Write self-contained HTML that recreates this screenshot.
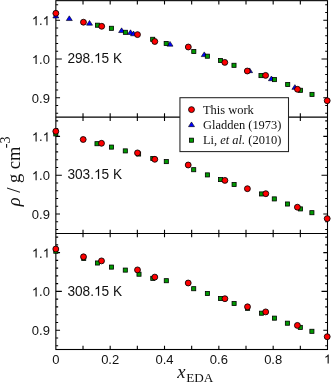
<!DOCTYPE html><html><head><meta charset="utf-8"><style>html,body{margin:0;padding:0;background:#fff;}svg{display:block;will-change:transform;} .s{font-family:"Liberation Sans",sans-serif;} .r{font-family:"Liberation Serif",serif;}</style></head><body>
<svg width="331" height="382" viewBox="0 0 331 382">
<rect width="331" height="382" fill="#fff"/>
<path d="M55.85 113.32h2.3M327.50 113.32h-2.3M55.85 105.56h2.3M327.50 105.56h-2.3M55.85 97.80h4.2M327.50 97.80h-4.2M55.85 90.04h2.3M327.50 90.04h-2.3M55.85 82.28h2.3M327.50 82.28h-2.3M55.85 74.52h2.3M327.50 74.52h-2.3M55.85 66.76h2.3M327.50 66.76h-2.3M55.85 59.00h6.0M327.50 59.00h-6.0M55.85 51.24h2.3M327.50 51.24h-2.3M55.85 43.48h2.3M327.50 43.48h-2.3M55.85 35.72h2.3M327.50 35.72h-2.3M55.85 27.96h2.3M327.50 27.96h-2.3M55.85 20.20h4.2M327.50 20.20h-4.2M55.85 12.44h2.3M327.50 12.44h-2.3M55.85 4.68h2.3M327.50 4.68h-2.3M83.02 0.65v3.8M83.02 117.15v-3.8M110.18 0.65v3.8M110.18 117.15v-3.8M137.34 0.65v3.8M137.34 117.15v-3.8M164.51 0.65v3.8M164.51 117.15v-3.8M191.67 0.65v3.8M191.67 117.15v-3.8M218.84 0.65v3.8M218.84 117.15v-3.8M246.00 0.65v3.8M246.00 117.15v-3.8M273.17 0.65v3.8M273.17 117.15v-3.8M300.33 0.65v3.8M300.33 117.15v-3.8M55.85 229.52h2.3M327.50 229.52h-2.3M55.85 221.76h2.3M327.50 221.76h-2.3M55.85 214.00h4.2M327.50 214.00h-4.2M55.85 206.24h2.3M327.50 206.24h-2.3M55.85 198.48h2.3M327.50 198.48h-2.3M55.85 190.72h2.3M327.50 190.72h-2.3M55.85 182.96h2.3M327.50 182.96h-2.3M55.85 175.20h6.0M327.50 175.20h-6.0M55.85 167.44h2.3M327.50 167.44h-2.3M55.85 159.68h2.3M327.50 159.68h-2.3M55.85 151.92h2.3M327.50 151.92h-2.3M55.85 144.16h2.3M327.50 144.16h-2.3M55.85 136.40h4.2M327.50 136.40h-4.2M55.85 128.64h2.3M327.50 128.64h-2.3M55.85 120.88h2.3M327.50 120.88h-2.3M83.02 117.15v3.8M83.02 233.50v-3.8M110.18 117.15v3.8M110.18 233.50v-3.8M137.34 117.15v3.8M137.34 233.50v-3.8M164.51 117.15v3.8M164.51 233.50v-3.8M191.67 117.15v3.8M191.67 233.50v-3.8M218.84 117.15v3.8M218.84 233.50v-3.8M246.00 117.15v3.8M246.00 233.50v-3.8M273.17 117.15v3.8M273.17 233.50v-3.8M300.33 117.15v3.8M300.33 233.50v-3.8M55.85 345.72h2.3M327.50 345.72h-2.3M55.85 337.96h2.3M327.50 337.96h-2.3M55.85 330.20h4.2M327.50 330.20h-4.2M55.85 322.44h2.3M327.50 322.44h-2.3M55.85 314.68h2.3M327.50 314.68h-2.3M55.85 306.92h2.3M327.50 306.92h-2.3M55.85 299.16h2.3M327.50 299.16h-2.3M55.85 291.40h6.0M327.50 291.40h-6.0M55.85 283.64h2.3M327.50 283.64h-2.3M55.85 275.88h2.3M327.50 275.88h-2.3M55.85 268.12h2.3M327.50 268.12h-2.3M55.85 260.36h2.3M327.50 260.36h-2.3M55.85 252.60h4.2M327.50 252.60h-4.2M55.85 244.84h2.3M327.50 244.84h-2.3M55.85 237.08h2.3M327.50 237.08h-2.3M83.02 233.50v3.8M83.02 349.50v-3.8M110.18 233.50v3.8M110.18 349.50v-3.8M137.34 233.50v3.8M137.34 349.50v-3.8M164.51 233.50v3.8M164.51 349.50v-3.8M191.67 233.50v3.8M191.67 349.50v-3.8M218.84 233.50v3.8M218.84 349.50v-3.8M246.00 233.50v3.8M246.00 349.50v-3.8M273.17 233.50v3.8M273.17 349.50v-3.8M300.33 233.50v3.8M300.33 349.50v-3.8" stroke="#000" stroke-width="1.1" fill="none"/>
<rect x="55.85" y="0.65" width="271.65" height="348.85" fill="none" stroke="#000" stroke-width="1.1"/>
<path d="M55.85 117.15H327.5M55.85 233.5H327.5" stroke="#000" stroke-width="1.1"/>
<path d="M55.85 13.25 L58.85 17.95 L52.85 17.95 Z" fill="#0000ff" stroke="#000" stroke-width="0.6" stroke-linejoin="miter"/>
<path d="M69.30 15.85 L72.30 20.55 L66.30 20.55 Z" fill="#0000ff" stroke="#000" stroke-width="0.6" stroke-linejoin="miter"/>
<path d="M89.50 20.45 L92.50 25.15 L86.50 25.15 Z" fill="#0000ff" stroke="#000" stroke-width="0.6" stroke-linejoin="miter"/>
<path d="M121.60 27.85 L124.60 32.55 L118.60 32.55 Z" fill="#0000ff" stroke="#000" stroke-width="0.6" stroke-linejoin="miter"/>
<path d="M130.50 29.80 L133.50 34.50 L127.50 34.50 Z" fill="#0000ff" stroke="#000" stroke-width="0.6" stroke-linejoin="miter"/>
<path d="M133.50 31.05 L136.50 35.75 L130.50 35.75 Z" fill="#0000ff" stroke="#000" stroke-width="0.6" stroke-linejoin="miter"/>
<path d="M170.00 41.45 L173.00 46.15 L167.00 46.15 Z" fill="#0000ff" stroke="#000" stroke-width="0.6" stroke-linejoin="miter"/>
<path d="M204.25 51.90 L207.25 56.60 L201.25 56.60 Z" fill="#0000ff" stroke="#000" stroke-width="0.6" stroke-linejoin="miter"/>
<path d="M249.60 67.95 L252.60 72.65 L246.60 72.65 Z" fill="#0000ff" stroke="#000" stroke-width="0.6" stroke-linejoin="miter"/>
<path d="M271.40 76.00 L274.40 80.70 L268.40 80.70 Z" fill="#0000ff" stroke="#000" stroke-width="0.6" stroke-linejoin="miter"/>
<path d="M294.90 84.65 L297.90 89.35 L291.90 89.35 Z" fill="#0000ff" stroke="#000" stroke-width="0.6" stroke-linejoin="miter"/>
<rect x="95.45" y="23.15" width="4.1" height="4.1" fill="#009a00" stroke="#000" stroke-width="0.8"/>
<rect x="109.35" y="26.25" width="4.1" height="4.1" fill="#009a00" stroke="#000" stroke-width="0.8"/>
<rect x="123.35" y="30.25" width="4.1" height="4.1" fill="#009a00" stroke="#000" stroke-width="0.8"/>
<rect x="150.65" y="37.25" width="4.1" height="4.1" fill="#009a00" stroke="#000" stroke-width="0.8"/>
<rect x="164.15" y="41.40" width="4.1" height="4.1" fill="#009a00" stroke="#000" stroke-width="0.8"/>
<rect x="191.75" y="49.45" width="4.1" height="4.1" fill="#009a00" stroke="#000" stroke-width="0.8"/>
<rect x="205.30" y="54.15" width="4.1" height="4.1" fill="#009a00" stroke="#000" stroke-width="0.8"/>
<rect x="218.45" y="58.45" width="4.1" height="4.1" fill="#009a00" stroke="#000" stroke-width="0.8"/>
<rect x="231.95" y="63.25" width="4.1" height="4.1" fill="#009a00" stroke="#000" stroke-width="0.8"/>
<rect x="258.95" y="73.55" width="4.1" height="4.1" fill="#009a00" stroke="#000" stroke-width="0.8"/>
<rect x="272.45" y="77.55" width="4.1" height="4.1" fill="#009a00" stroke="#000" stroke-width="0.8"/>
<rect x="285.65" y="82.45" width="4.1" height="4.1" fill="#009a00" stroke="#000" stroke-width="0.8"/>
<rect x="298.45" y="88.25" width="4.1" height="4.1" fill="#009a00" stroke="#000" stroke-width="0.8"/>
<rect x="309.95" y="92.35" width="4.1" height="4.1" fill="#009a00" stroke="#000" stroke-width="0.8"/>
<rect x="53.75" y="131.85" width="4.1" height="4.1" fill="#009a00" stroke="#000" stroke-width="0.8"/>
<rect x="94.95" y="141.65" width="4.1" height="4.1" fill="#009a00" stroke="#000" stroke-width="0.8"/>
<rect x="109.45" y="145.05" width="4.1" height="4.1" fill="#009a00" stroke="#000" stroke-width="0.8"/>
<rect x="123.25" y="148.85" width="4.1" height="4.1" fill="#009a00" stroke="#000" stroke-width="0.8"/>
<rect x="136.55" y="151.95" width="4.1" height="4.1" fill="#009a00" stroke="#000" stroke-width="0.8"/>
<rect x="150.75" y="156.45" width="4.1" height="4.1" fill="#009a00" stroke="#000" stroke-width="0.8"/>
<rect x="164.25" y="159.55" width="4.1" height="4.1" fill="#009a00" stroke="#000" stroke-width="0.8"/>
<rect x="191.65" y="167.65" width="4.1" height="4.1" fill="#009a00" stroke="#000" stroke-width="0.8"/>
<rect x="205.35" y="172.85" width="4.1" height="4.1" fill="#009a00" stroke="#000" stroke-width="0.8"/>
<rect x="218.55" y="177.50" width="4.1" height="4.1" fill="#009a00" stroke="#000" stroke-width="0.8"/>
<rect x="232.05" y="182.45" width="4.1" height="4.1" fill="#009a00" stroke="#000" stroke-width="0.8"/>
<rect x="259.40" y="191.90" width="4.1" height="4.1" fill="#009a00" stroke="#000" stroke-width="0.8"/>
<rect x="272.25" y="196.85" width="4.1" height="4.1" fill="#009a00" stroke="#000" stroke-width="0.8"/>
<rect x="285.45" y="201.95" width="4.1" height="4.1" fill="#009a00" stroke="#000" stroke-width="0.8"/>
<rect x="298.45" y="206.85" width="4.1" height="4.1" fill="#009a00" stroke="#000" stroke-width="0.8"/>
<rect x="309.85" y="210.65" width="4.1" height="4.1" fill="#009a00" stroke="#000" stroke-width="0.8"/>
<rect x="53.75" y="249.15" width="4.1" height="4.1" fill="#009a00" stroke="#000" stroke-width="0.8"/>
<rect x="81.65" y="256.35" width="4.1" height="4.1" fill="#009a00" stroke="#000" stroke-width="0.8"/>
<rect x="95.40" y="260.95" width="4.1" height="4.1" fill="#009a00" stroke="#000" stroke-width="0.8"/>
<rect x="109.45" y="265.05" width="4.1" height="4.1" fill="#009a00" stroke="#000" stroke-width="0.8"/>
<rect x="123.25" y="268.05" width="4.1" height="4.1" fill="#009a00" stroke="#000" stroke-width="0.8"/>
<rect x="136.95" y="272.15" width="4.1" height="4.1" fill="#009a00" stroke="#000" stroke-width="0.8"/>
<rect x="150.75" y="276.30" width="4.1" height="4.1" fill="#009a00" stroke="#000" stroke-width="0.8"/>
<rect x="164.25" y="278.65" width="4.1" height="4.1" fill="#009a00" stroke="#000" stroke-width="0.8"/>
<rect x="191.65" y="286.65" width="4.1" height="4.1" fill="#009a00" stroke="#000" stroke-width="0.8"/>
<rect x="205.35" y="291.45" width="4.1" height="4.1" fill="#009a00" stroke="#000" stroke-width="0.8"/>
<rect x="218.55" y="296.45" width="4.1" height="4.1" fill="#009a00" stroke="#000" stroke-width="0.8"/>
<rect x="232.05" y="301.45" width="4.1" height="4.1" fill="#009a00" stroke="#000" stroke-width="0.8"/>
<rect x="245.55" y="306.25" width="4.1" height="4.1" fill="#009a00" stroke="#000" stroke-width="0.8"/>
<rect x="259.45" y="311.15" width="4.1" height="4.1" fill="#009a00" stroke="#000" stroke-width="0.8"/>
<rect x="272.40" y="316.10" width="4.1" height="4.1" fill="#009a00" stroke="#000" stroke-width="0.8"/>
<rect x="285.35" y="321.15" width="4.1" height="4.1" fill="#009a00" stroke="#000" stroke-width="0.8"/>
<rect x="298.25" y="325.35" width="4.1" height="4.1" fill="#009a00" stroke="#000" stroke-width="0.8"/>
<rect x="309.85" y="329.25" width="4.1" height="4.1" fill="#009a00" stroke="#000" stroke-width="0.8"/>
<circle cx="55.85" cy="13.3" r="2.95" fill="#ff0000" stroke="#000" stroke-width="0.85"/>
<circle cx="83.45" cy="22.2" r="2.95" fill="#ff0000" stroke="#000" stroke-width="0.85"/>
<circle cx="101.7" cy="26.3" r="2.95" fill="#ff0000" stroke="#000" stroke-width="0.85"/>
<circle cx="137.5" cy="34.6" r="2.95" fill="#ff0000" stroke="#000" stroke-width="0.85"/>
<circle cx="154.8" cy="41.5" r="2.95" fill="#ff0000" stroke="#000" stroke-width="0.85"/>
<circle cx="188.3" cy="47" r="2.95" fill="#ff0000" stroke="#000" stroke-width="0.85"/>
<circle cx="224.8" cy="62.4" r="2.95" fill="#ff0000" stroke="#000" stroke-width="0.85"/>
<circle cx="247.3" cy="71.0" r="2.95" fill="#ff0000" stroke="#000" stroke-width="0.85"/>
<circle cx="265.6" cy="75.4" r="2.95" fill="#ff0000" stroke="#000" stroke-width="0.85"/>
<circle cx="297.5" cy="89.3" r="2.95" fill="#ff0000" stroke="#000" stroke-width="0.85"/>
<circle cx="327.2" cy="100.7" r="2.95" fill="#ff0000" stroke="#000" stroke-width="0.85"/>
<circle cx="55.8" cy="131.3" r="2.95" fill="#ff0000" stroke="#000" stroke-width="0.85"/>
<circle cx="83.2" cy="139.5" r="2.95" fill="#ff0000" stroke="#000" stroke-width="0.85"/>
<circle cx="101.5" cy="143.3" r="2.95" fill="#ff0000" stroke="#000" stroke-width="0.85"/>
<circle cx="137.5" cy="152.9" r="2.95" fill="#ff0000" stroke="#000" stroke-width="0.85"/>
<circle cx="154.8" cy="159.3" r="2.95" fill="#ff0000" stroke="#000" stroke-width="0.85"/>
<circle cx="188.2" cy="165" r="2.95" fill="#ff0000" stroke="#000" stroke-width="0.85"/>
<circle cx="224.9" cy="180.4" r="2.95" fill="#ff0000" stroke="#000" stroke-width="0.85"/>
<circle cx="247.4" cy="188.7" r="2.95" fill="#ff0000" stroke="#000" stroke-width="0.85"/>
<circle cx="265.8" cy="193.7" r="2.95" fill="#ff0000" stroke="#000" stroke-width="0.85"/>
<circle cx="297.4" cy="207.2" r="2.95" fill="#ff0000" stroke="#000" stroke-width="0.85"/>
<circle cx="327.2" cy="218.6" r="2.95" fill="#ff0000" stroke="#000" stroke-width="0.85"/>
<circle cx="55.8" cy="249.0" r="2.95" fill="#ff0000" stroke="#000" stroke-width="0.85"/>
<circle cx="83.5" cy="256.8" r="2.95" fill="#ff0000" stroke="#000" stroke-width="0.85"/>
<circle cx="101.5" cy="260.9" r="2.95" fill="#ff0000" stroke="#000" stroke-width="0.85"/>
<circle cx="137.5" cy="269.9" r="2.95" fill="#ff0000" stroke="#000" stroke-width="0.85"/>
<circle cx="154.8" cy="277.1" r="2.95" fill="#ff0000" stroke="#000" stroke-width="0.85"/>
<circle cx="188.2" cy="283" r="2.95" fill="#ff0000" stroke="#000" stroke-width="0.85"/>
<circle cx="224.9" cy="298.7" r="2.95" fill="#ff0000" stroke="#000" stroke-width="0.85"/>
<circle cx="247.5" cy="306.8" r="2.95" fill="#ff0000" stroke="#000" stroke-width="0.85"/>
<circle cx="265.7" cy="311.9" r="2.95" fill="#ff0000" stroke="#000" stroke-width="0.85"/>
<circle cx="297.4" cy="325.4" r="2.95" fill="#ff0000" stroke="#000" stroke-width="0.85"/>
<circle cx="327.2" cy="336.7" r="2.95" fill="#ff0000" stroke="#000" stroke-width="0.85"/>
<g transform="translate(31.83,25.20) scale(1.0,1)" fill="#111"><text x="0" y="0" class="s" font-size="13.0"> . </text><path transform="translate(0.00,0) scale(0.00635,-0.00635)" d="M763 0L583 0L583 1114.3Q518 1054.1 412.5 993.8Q307 933.6 223 903.5L223 1072.5Q374 1141.5 486.5 1239.6Q599 1337.8 645 1430L763 1430Z"/><path transform="translate(10.84,0) scale(0.00635,-0.00635)" d="M763 0L583 0L583 1114.3Q518 1054.1 412.5 993.8Q307 933.6 223 903.5L223 1072.5Q374 1141.5 486.5 1239.6Q599 1337.8 645 1430L763 1430Z"/></g>
<g transform="translate(31.83,64.00) scale(1.0,1)" fill="#111"><text x="0" y="0" class="s" font-size="13.0"> .0</text><path transform="translate(0.00,0) scale(0.00635,-0.00635)" d="M763 0L583 0L583 1114.3Q518 1054.1 412.5 993.8Q307 933.6 223 903.5L223 1072.5Q374 1141.5 486.5 1239.6Q599 1337.8 645 1430L763 1430Z"/></g>
<g transform="translate(31.83,102.80) scale(1.0,1)" fill="#111"><text x="0" y="0" class="s" font-size="13.0">0.9</text></g>
<g transform="translate(67.40,62.70) scale(0.977,1)" fill="#111"><text x="0" y="0" class="s" font-size="14.0">298. 5 K</text><path transform="translate(27.25,0) scale(0.00684,-0.00684)" d="M763 0L583 0L583 1114.3Q518 1054.1 412.5 993.8Q307 933.6 223 903.5L223 1072.5Q374 1141.5 486.5 1239.6Q599 1337.8 645 1430L763 1430Z"/></g>
<g transform="translate(31.83,141.40) scale(1.0,1)" fill="#111"><text x="0" y="0" class="s" font-size="13.0"> . </text><path transform="translate(0.00,0) scale(0.00635,-0.00635)" d="M763 0L583 0L583 1114.3Q518 1054.1 412.5 993.8Q307 933.6 223 903.5L223 1072.5Q374 1141.5 486.5 1239.6Q599 1337.8 645 1430L763 1430Z"/><path transform="translate(10.84,0) scale(0.00635,-0.00635)" d="M763 0L583 0L583 1114.3Q518 1054.1 412.5 993.8Q307 933.6 223 903.5L223 1072.5Q374 1141.5 486.5 1239.6Q599 1337.8 645 1430L763 1430Z"/></g>
<g transform="translate(31.83,180.20) scale(1.0,1)" fill="#111"><text x="0" y="0" class="s" font-size="13.0"> .0</text><path transform="translate(0.00,0) scale(0.00635,-0.00635)" d="M763 0L583 0L583 1114.3Q518 1054.1 412.5 993.8Q307 933.6 223 903.5L223 1072.5Q374 1141.5 486.5 1239.6Q599 1337.8 645 1430L763 1430Z"/></g>
<g transform="translate(31.83,219.00) scale(1.0,1)" fill="#111"><text x="0" y="0" class="s" font-size="13.0">0.9</text></g>
<g transform="translate(67.40,178.90) scale(0.977,1)" fill="#111"><text x="0" y="0" class="s" font-size="14.0">303. 5 K</text><path transform="translate(27.25,0) scale(0.00684,-0.00684)" d="M763 0L583 0L583 1114.3Q518 1054.1 412.5 993.8Q307 933.6 223 903.5L223 1072.5Q374 1141.5 486.5 1239.6Q599 1337.8 645 1430L763 1430Z"/></g>
<g transform="translate(31.83,257.60) scale(1.0,1)" fill="#111"><text x="0" y="0" class="s" font-size="13.0"> . </text><path transform="translate(0.00,0) scale(0.00635,-0.00635)" d="M763 0L583 0L583 1114.3Q518 1054.1 412.5 993.8Q307 933.6 223 903.5L223 1072.5Q374 1141.5 486.5 1239.6Q599 1337.8 645 1430L763 1430Z"/><path transform="translate(10.84,0) scale(0.00635,-0.00635)" d="M763 0L583 0L583 1114.3Q518 1054.1 412.5 993.8Q307 933.6 223 903.5L223 1072.5Q374 1141.5 486.5 1239.6Q599 1337.8 645 1430L763 1430Z"/></g>
<g transform="translate(31.83,296.40) scale(1.0,1)" fill="#111"><text x="0" y="0" class="s" font-size="13.0"> .0</text><path transform="translate(0.00,0) scale(0.00635,-0.00635)" d="M763 0L583 0L583 1114.3Q518 1054.1 412.5 993.8Q307 933.6 223 903.5L223 1072.5Q374 1141.5 486.5 1239.6Q599 1337.8 645 1430L763 1430Z"/></g>
<g transform="translate(31.83,335.20) scale(1.0,1)" fill="#111"><text x="0" y="0" class="s" font-size="13.0">0.9</text></g>
<g transform="translate(67.40,295.80) scale(0.977,1)" fill="#111"><text x="0" y="0" class="s" font-size="14.0">308. 5 K</text><path transform="translate(27.25,0) scale(0.00684,-0.00684)" d="M763 0L583 0L583 1114.3Q518 1054.1 412.5 993.8Q307 933.6 223 903.5L223 1072.5Q374 1141.5 486.5 1239.6Q599 1337.8 645 1430L763 1430Z"/></g>
<g transform="translate(52.24,363.60) scale(1.0,1)" fill="#111"><text x="0" y="0" class="s" font-size="13.0">0</text></g>
<g transform="translate(101.14,363.60) scale(1.0,1)" fill="#111"><text x="0" y="0" class="s" font-size="13.0">0.2</text></g>
<g transform="translate(155.47,363.60) scale(1.0,1)" fill="#111"><text x="0" y="0" class="s" font-size="13.0">0.4</text></g>
<g transform="translate(209.80,363.60) scale(1.0,1)" fill="#111"><text x="0" y="0" class="s" font-size="13.0">0.6</text></g>
<g transform="translate(264.13,363.60) scale(1.0,1)" fill="#111"><text x="0" y="0" class="s" font-size="13.0">0.8</text></g>
<g transform="translate(323.89,363.60) scale(1.0,1)" fill="#111"><text x="0" y="0" class="s" font-size="13.0"> </text><path transform="translate(0.00,0) scale(0.00635,-0.00635)" d="M763 0L583 0L583 1114.3Q518 1054.1 412.5 993.8Q307 933.6 223 903.5L223 1072.5Q374 1141.5 486.5 1239.6Q599 1337.8 645 1430L763 1430Z"/></g>
<rect x="179.95" y="97.7" width="108.55" height="53.9" fill="#fff" stroke="#222" stroke-width="1.05"/>
<circle cx="191.5" cy="109.6" r="2.95" fill="#ff0000" stroke="#000" stroke-width="0.85"/>
<path d="M191.50 121.95 L194.50 126.65 L188.50 126.65 Z" fill="#0000ff" stroke="#000" stroke-width="0.6" stroke-linejoin="miter"/>
<rect x="189.45" y="138.15" width="4.1" height="4.1" fill="#009a00" stroke="#000" stroke-width="0.8"/>
<text x="203" y="113.7" class="r" font-size="12.45" fill="#111">This work</text>
<text x="203" y="128.8" class="r" font-size="12.45" fill="#111">Gladden (1973)</text>
<text x="203" y="144.1" class="r" font-size="12.45" fill="#111">Li, <tspan font-style="italic">et al.</tspan> (2010)</text>
<text x="177.3" y="377.5" class="r" font-size="18.6" fill="#111"><tspan font-style="italic">x</tspan><tspan font-size="13.2" dx="0.6" dy="4.1">EDA</tspan></text>
<text transform="translate(20.0,206.3) rotate(-90)" class="r" font-size="18.5" fill="#111"><tspan font-style="italic">ρ</tspan> / g cm<tspan font-size="14" dx="-1.6" dy="-10.0">-3</tspan></text>
</svg></body></html>
